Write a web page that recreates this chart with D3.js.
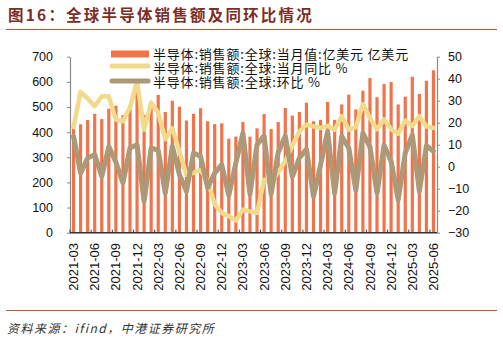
<!DOCTYPE html>
<html><head><meta charset="utf-8">
<script src="https://cdn.jsdelivr.net/npm/d3@7"></script>
<style>
html,body{margin:0;padding:0;background:#fff;}
svg{display:block;}
</style></head>
<body>
<svg id="chart" width="503" height="340"></svg>
<script>
const months = ["2021-03","2021-04","2021-05","2021-06","2021-07","2021-08","2021-09","2021-10","2021-11","2021-12",
"2022-01","2022-02","2022-03","2022-04","2022-05","2022-06","2022-07","2022-08","2022-09","2022-10","2022-11","2022-12",
"2023-01","2023-02","2023-03","2023-04","2023-05","2023-06","2023-07","2023-08","2023-09","2023-10","2023-11","2023-12",
"2024-01","2024-02","2024-03","2024-04","2024-05","2024-06","2024-07","2024-08","2024-09","2024-10","2024-11","2024-12",
"2025-01","2025-02","2025-03","2025-04","2025-05","2025-06"];
const salesValue = [425,431,448,473,452,493,505,468,498,562,
469,515,548,480,525,501,446,473,495,443,432,435,
374,382,440,382,415,472,412,440,496,466,480,517,
443,449,520,449,510,549,490,565,615,539,591,599,
510,541,620,552,604,646];
const yoyPct = [18,34,31,27.5,32,32,21.4,20.6,27,38.8,
16.8,29.2,24.5,12.5,17.4,7,-3.8,-2.8,-1.5,-6.5,-17,-21,
-22.5,-24.5,-19.5,-20.3,-21,-5.9,-7.4,-2.5,2.5,9.5,16,19.1,
18.3,17.6,18.6,16.8,22.9,16.8,18,28.5,22.1,17,21.5,17,
15,21,18.5,23,18.3,17.6];
const momPct = [13.8,-3,3.9,5.5,-4.4,9.2,2,-7.4,8.5,10,
-15.8,8.5,7.5,-12,9.2,-3.5,-11.2,6.2,4.7,-9.5,-2.9,0.9,
-13,1.7,15.3,-12.5,10,14,-12.5,6.5,14,-4.5,4,8,
-13.5,0.8,16,-12,13.8,8.5,-10.8,15.3,9,-12,9.8,2.5,
-15,6.2,14.5,-11.2,9.6,7];
const leftTicks = [0,100,200,300,400,500,600,700];
const rightTicks = [-30,-20,-10,0,10,20,30,40,50];
const xLabels = months.filter((m,i)=>i%3===0);
const seriesNames = ["半导体:销售额:全球:当月值:亿美元 亿美元","半导体:销售额:全球:当月同比 %","半导体:销售额:全球:环比 %"];
const titleText = "图16：全球半导体销售额及同环比情况";
const sourceText = "资料来源：ifind，中港证券研究所";

const svg = d3.select("#chart");
const L = 70, R = 437, T = 56.7, B = 232.7;
const barColor = "#F0734A", yoyColor = "#F1DA8A", momColor = "#AD9878";

const x = d3.scaleBand().domain(months).range([L, R]).paddingInner(0.55).paddingOuter(0.275);
const yL = d3.scaleLinear().domain([0,700]).range([B, T]);
const yR = d3.scaleLinear().domain([-30,50]).range([B, T]);
const cx = d => x(d) + x.bandwidth()/2;

// title
svg.append("text").attr("x",8).attr("y",21)
  .attr("font-family","'Noto Sans CJK SC',sans-serif").attr("font-weight","bold")
  .attr("font-size","15.5px").attr("letter-spacing","2.2px").attr("fill","#7A2E26").text(titleText);
svg.append("line").attr("x1",6).attr("x2",497).attr("y1",29.5).attr("y2",29.5)
  .attr("stroke","#B8523A").attr("stroke-width",1);
svg.append("line").attr("x1",6).attr("x2",497).attr("y1",310.5).attr("y2",310.5)
  .attr("stroke","#B8523A").attr("stroke-width",1);
svg.append("text").attr("x",7).attr("y",333)
  .attr("font-family","'Noto Sans CJK SC',sans-serif").attr("font-style","italic")
  .attr("font-size","12px").attr("letter-spacing","1.5px").attr("fill","#333").text(sourceText);

// bars
svg.append("g").selectAll("rect").data(months).join("rect")
  .attr("x", d=>x(d)).attr("width", x.bandwidth())
  .attr("y", (d,i)=>yL(salesValue[i])).attr("height",(d,i)=>B - yL(salesValue[i]))
  .attr("fill", barColor);

// lines
const lineFn = d3.line().x((d,i)=>cx(months[i])).y(d=>yR(d));
svg.append("path").datum(yoyPct).attr("d", lineFn).attr("fill","none")
  .attr("stroke", yoyColor).attr("stroke-width",4.5).attr("stroke-linejoin","round").attr("stroke-linecap","round");
svg.append("path").datum(momPct).attr("d", lineFn).attr("fill","none")
  .attr("stroke", momColor).attr("stroke-width",5).attr("stroke-linejoin","round").attr("stroke-linecap","round");

// axes
const fontAx = "'Liberation Sans',Arial,sans-serif";
const gL = svg.append("g").attr("transform",`translate(${L},0)`)
  .call(d3.axisLeft(yL).tickValues(leftTicks).tickSize(3).tickPadding(14).tickSizeOuter(0));
const gR = svg.append("g").attr("transform",`translate(${R},0)`)
  .call(d3.axisRight(yR).tickValues(rightTicks).tickSize(3).tickPadding(8).tickSizeOuter(0));
[gL,gR].forEach(g=>{
  g.selectAll("path.domain").attr("stroke","#8a8a8a").attr("stroke-width",1.2);
  g.selectAll(".tick line").attr("stroke","#8a8a8a");
  g.selectAll("text").attr("font-family",fontAx).attr("font-size","12.5px").attr("fill","#111");
});
const step = x.step();
const gX = svg.append("g");
gX.append("line").attr("x1",L).attr("x2",R).attr("y1",B).attr("y2",B).attr("stroke","#333").attr("stroke-width",1.5);
gX.selectAll("line.t").data(xLabels).join("line").attr("class","t")
  .attr("x1",d=>cx(d)-step/2).attr("x2",d=>cx(d)-step/2).attr("y1",B).attr("y2",B-3)
  .attr("stroke","#333");
gX.selectAll("text").data(xLabels).join("text")
  .attr("transform",d=>`translate(${cx(d)},243) rotate(-90)`)
  .attr("text-anchor","end").attr("dy","0.35em")
  .attr("font-family",fontAx).attr("font-size","13px").attr("fill","#111").text(d=>d);

// legend
const lg = svg.append("g").attr("font-family","'Noto Sans CJK SC',sans-serif").attr("font-size","13px");
const rows = [54, 68, 82];
lg.append("rect").attr("x",111).attr("y",rows[0]-3.5).attr("width",38).attr("height",7).attr("fill",barColor);
lg.append("line").attr("x1",112).attr("x2",148).attr("y1",rows[1]-2).attr("y2",rows[1]-2)
  .attr("stroke",yoyColor).attr("stroke-width",5).attr("stroke-linecap","round");
lg.append("line").attr("x1",112).attr("x2",148).attr("y1",rows[2]-1).attr("y2",rows[2]-1)
  .attr("stroke",momColor).attr("stroke-width",5).attr("stroke-linecap","round");
lg.selectAll("text").data(seriesNames).join("text")
  .attr("x",153).attr("y",(d,i)=>rows[i]).attr("dy","0.35em").attr("letter-spacing","0.8px")
  .attr("fill","#111").text(d=>d);
</script>
</body></html>
